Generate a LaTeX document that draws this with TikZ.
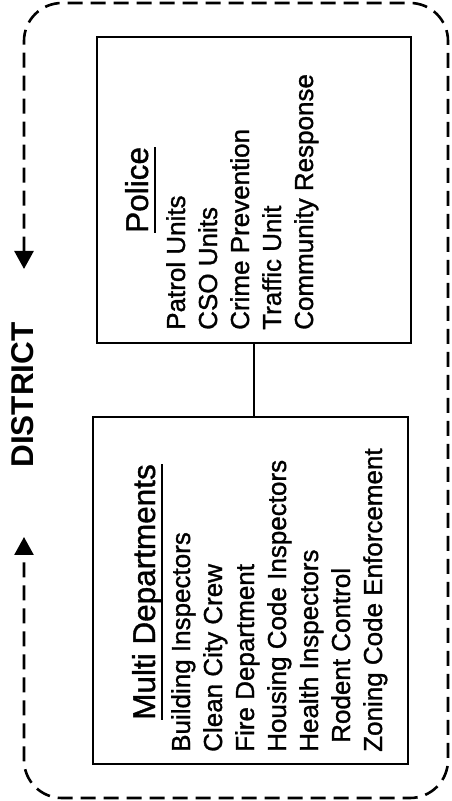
\documentclass[tikz,border=0pt]{standalone}
\usepackage{fontspec}
\setmainfont{Liberation Sans}
\newfontfamily\inkfont[FakeBold=1.2]{Liberation Sans}
\usetikzlibrary{arrows.meta}
\begin{document}
\begin{tikzpicture}[x=1pt,y=1pt,
  unitbox/.style={draw, line width=2.3pt, inner sep=0pt},
  link/.style={line width=2pt},
  listline/.style={rotate=90, anchor=base west, inner sep=0pt, font=\inkfont\fontsize{26}{32}\selectfont},
  heading/.style={rotate=90, anchor=base west, inner sep=0pt, font=\inkfont\fontsize{31.5}{36}\selectfont},
  headrule/.style={line width=2.2pt},
  boundary/.style={line width=2.6pt, dash pattern=on 15pt off 8pt, rounded corners=38pt,
    {Triangle[length=18pt,width=19pt]}-{Triangle[length=18pt,width=19pt]}}]
\useasboundingbox (0,0) rectangle (452,801);

% district boundary with its two arrows
\coordinate (dn) at (24,532);
\coordinate (up) at (24,264);
\draw[boundary] (dn) -- (24,798) -- (448,798) -- (448,3) -- (24,3) -- (up);
\node[rotate=90, anchor=base, inner sep=0pt, font=\bfseries\fontsize{31.5}{36}\selectfont] (district) at (33,406) {DISTRICT};

% unit boxes
\node[unitbox, minimum width=314pt, minimum height=306pt] (police) at (254,611) {};
\node[unitbox, minimum width=315pt, minimum height=347pt] (multi) at (250.5,210.5) {};
\draw[link] (police.south) -- (police.south |- multi.north);

% police contents
\node[heading] (poltitle) at (148,568) {Police};
\draw[headrule] ([xshift=7pt]poltitle.base west) -- ([xshift=7pt]poltitle.base east);
\node[listline] (p1) at (185,471) {Patrol Units};
\node[listline] (p2) at (217,471) {CSO Units};
\node[listline] (p3) at (249,471) {Crime Prevention};
\node[listline] (p4) at (281,471) {Traffic Unit};
\node[listline] (p5) at (313,471) {Community Response};

% multi-department contents
\node[heading] (multititle) at (155,81) {Multi Departments};
\draw[headrule] ([xshift=7pt]multititle.base west) -- ([xshift=7pt]multititle.base east);
\node[listline] (m1) at (190,49) {Building Inspectors};
\node[listline] (m2) at (222,49) {Clean City Crew};
\node[listline] (m3) at (254,49) {Fire Department};
\node[listline] (m4) at (286,49) {Housing Code Inspectors};
\node[listline] (m5) at (318,49) {Health Inspectors};
\node[listline] (m6) at (350,58) {Rodent Control};
\node[listline] (m7) at (382,49) {Zoning Code Enforcement};
\end{tikzpicture}
\end{document}
